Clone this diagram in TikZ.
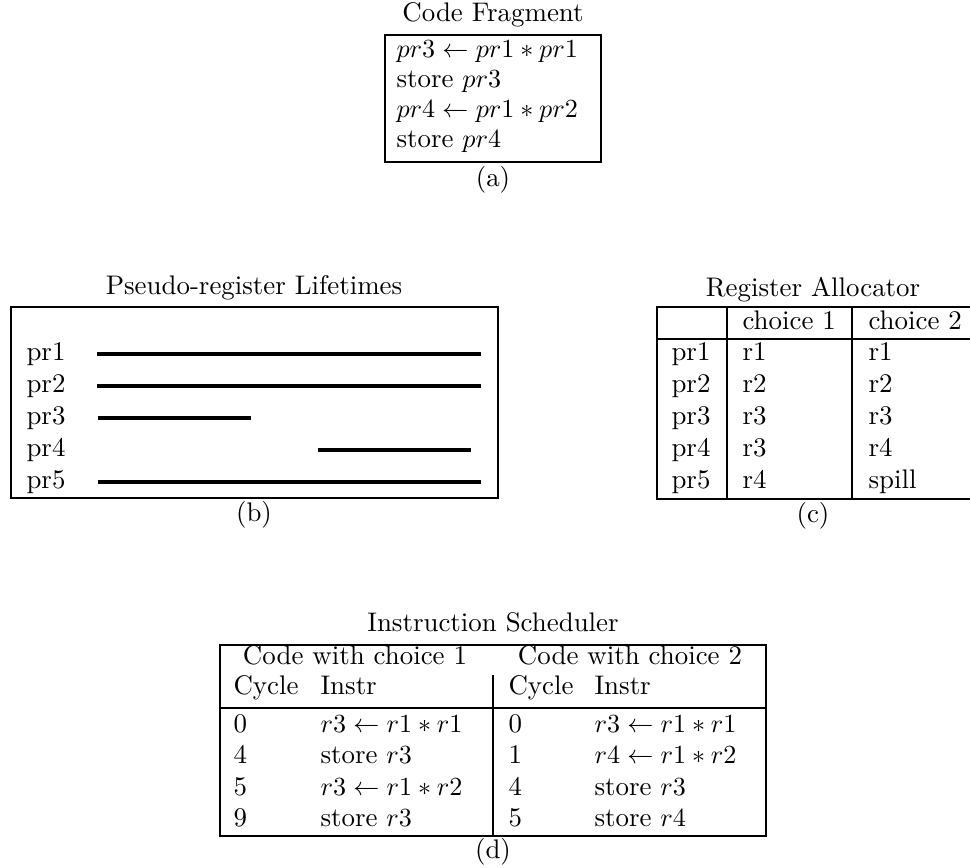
\documentclass[tikz,border=0pt]{standalone}
\usepackage{amsmath}
\usetikzlibrary{positioning}
\tikzstyle{every node}=[font=\fontsize{10.3pt}{12pt}\selectfont]
\tikzstyle{cell}=[inner sep=0pt, text height=7pt, text depth=2pt, anchor=west]
\tikzstyle{title}=[inner sep=0pt, text height=7pt, text depth=2pt]
\tikzstyle{frame}=[line width=0.75pt]
\tikzstyle{life}=[line width=1.3pt]

\begin{document}
\begin{tikzpicture}[x=0.383pt, y=-0.383pt]
    \useasboundingbox (0,0) rectangle (970,867);

    % (a) code fragment
    \node[title] (codeT) at (493,15) {Code Fragment};
    \draw[frame] (385,35) rectangle (601,162);
    \foreach \y/\txt [count=\i] in {51/{$pr3 \leftarrow pr1 * pr1$}, 81/{store $pr3$},
                                    111/{$pr4 \leftarrow pr1 * pr2$}, 141/{store $pr4$}}
        \node[cell] (code\i) at (396,\y) {\txt};
    \node[title] (capA) at (493,180) {(a)};

    % (b) lifetimes
    \node[title] (lifeT) at (254,288) {Pseudo-register Lifetimes};
    \draw[frame] (11,307) rectangle (498,498);
    \foreach \i/\a/\b in {1/97/481, 2/97/481, 3/98/251, 4/318/471, 5/98/481} {
        \node[cell] (pr\i) at (26,322+32*\i) {pr\i};
        \draw[life] (\a,322+32*\i) -- (\b,322+32*\i);
    }
    \node[title] (capB) at (254,515) {(b)};

    % (c) register allocator
    \node[title] (allocT) at (813,290) {Register Allocator};
    \draw[frame] (970,307) -- (657,307) -- (657,499) -- (970,499);
    \draw[frame] (657,339) -- (970,339);
    \draw[frame] (727,307) -- (727,499) (852,307) -- (852,499);
    \node[cell] (ch1) at (742,323) {choice 1};
    \node[cell] (ch2) at (868,323) {choice 2};
    \foreach \i/\c/\d in {1/r1/r1, 2/r2/r2, 3/r3/r3, 4/r3/r4, 5/r4/spill} {
        \node[cell] (reg\i) at (671,322+32*\i) {pr\i};
        \node[cell] (one\i) at (742,322+32*\i) {\c};
        \node[cell] (two\i) at (868,322+32*\i) {\d};
    }
    \node[title] (capC) at (813,516) {(c)};

    % (d) instruction scheduler
    \node[title] (schedT) at (493,625) {Instruction Scheduler};
    \draw[frame] (220,645) rectangle (766,836);
    \draw[frame] (220,708) -- (766,708);
    \draw[frame] (493,675) -- (493,836);
    \node[title] (with1) at (355,658) {Code with choice 1};
    \node[title] (with2) at (630,658) {Code with choice 2};
    \node[cell] (cycL) at (233,688) {Cycle};
    \node[cell] (insL) at (320,688) {Instr};
    \node[cell] (cycR) at (508,688) {Cycle};
    \node[cell] (insR) at (594,688) {Instr};
    \foreach \c/\txt [count=\i] in {0/{$r3 \leftarrow r1 * r1$}, 4/{store $r3$},
                                    5/{$r3 \leftarrow r1 * r2$}, 9/{store $r3$}} {
        \node[cell] (tL\i) at (233,694+31.5*\i) {\c};
        \node[cell] (iL\i) at (320,694+31.5*\i) {\txt};
    }
    \foreach \c/\txt [count=\i] in {0/{$r3 \leftarrow r1 * r1$}, 1/{$r4 \leftarrow r1 * r2$},
                                    4/{store $r3$}, 5/{store $r4$}} {
        \node[cell] (tR\i) at (508,694+31.5*\i) {\c};
        \node[cell] (iR\i) at (594,694+31.5*\i) {\txt};
    }
    \node[title] (capD) at (493,852) {(d)};
\end{tikzpicture}
\end{document}
